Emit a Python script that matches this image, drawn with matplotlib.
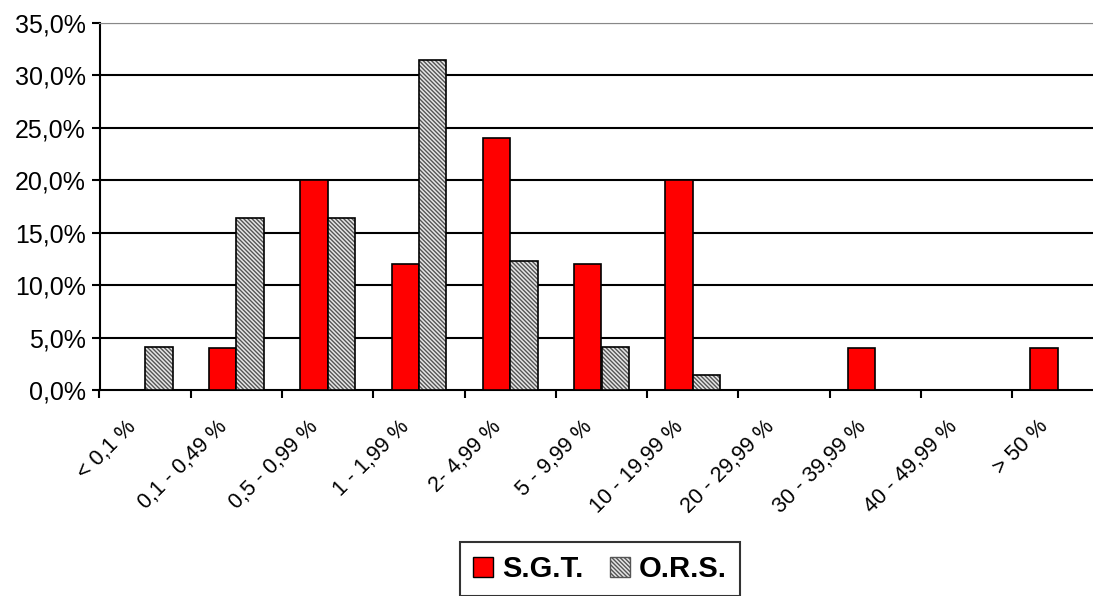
import matplotlib

matplotlib.use("Agg")
import matplotlib.pyplot as plt  # noqa: E402
import numpy as np  # noqa: E402
from matplotlib.patches import Patch  # noqa: E402

plt.rcParams["font.family"] = ["Liberation Sans", "DejaVu Sans"]
plt.rcParams["hatch.linewidth"] = 1.0

categories = [
    "< 0,1 %", "0,1 - 0,49 %", "0,5 - 0,99 %", "1 - 1,99 %", "2- 4,99 %",
    "5 - 9,99 %", "10 - 19,99 %", "20 - 29,99 %", "30 - 39,99 %",
    "40 - 49,99 %", "> 50 %",
]
sgt = [0, 4.0, 20.0, 12.0, 24.0, 12.0, 20.0, 0, 4.0, 0, 4.0]
ors = [4.1, 16.4, 16.4, 31.5, 12.3, 4.1, 1.4, 0, 0, 0, 0]
yticks = [0, 5, 10, 15, 20, 25, 30, 35]

HATCH = "\\" * 8

fig = plt.figure(figsize=(10.93, 5.96), dpi=100)
# plot area runs a little past the right edge of the picture, as in the reference
ax = fig.add_axes([99.5 / 1093, 1 - 390 / 596, 1004 / 1093, 367 / 596])

x = np.arange(len(categories))
w = 0.3
ax.bar(x - w / 2, sgt, w, color="#ff0000", edgecolor="black", lw=1.2, zorder=3)
ax.bar(x + w / 2, ors, w, color="#e6e6e6", edgecolor="#555555", hatch=HATCH, lw=0, zorder=3)
ax.bar(x + w / 2, ors, w, color="none", edgecolor="black", lw=1.2, zorder=4)

ax.set_xlim(-0.5, len(categories) - 0.5)
ax.set_ylim(0, 35)
ax.set_yticks(yticks)
ax.set_yticklabels([f"{v},0%" for v in yticks], fontsize=18)
for v in yticks[1:]:
    ax.axhline(v, color="black", lw=1.5, zorder=1)

ax.set_xticks(np.arange(len(categories) + 1) - 0.5, minor=False)
ax.set_xticklabels([])
# rotated labels end a little left of the category centre
ax.set_xticks(x - 0.22, minor=True)
ax.set_xticklabels(categories, minor=True, rotation=45, ha="right", va="top",
                   rotation_mode="anchor", fontsize=15.5)
ax.tick_params(axis="x", which="minor", length=0, pad=19)
ax.tick_params(axis="x", which="major", length=6, width=1.5, direction="out")
ax.tick_params(axis="y", length=6, width=1.5, direction="out", pad=4)

for s in ["left", "bottom"]:
    ax.spines[s].set_linewidth(1.5)
ax.spines["top"].set_color("#888888")
ax.spines["right"].set_visible(False)

handles = [
    Patch(facecolor="#ff0000", edgecolor="black", label="S.G.T."),
    Patch(facecolor="#e6e6e6", edgecolor="#555555", hatch=HATCH, label="O.R.S."),
]
leg = fig.legend(handles=handles, loc="center", bbox_to_anchor=(600 / 1093, 1 - 569 / 596),
                 ncol=2, frameon=True, fancybox=False, prop={"weight": "bold", "size": 21},
                 handlelength=0.7, handleheight=0.7, handletextpad=0.3, columnspacing=0.9,
                 borderpad=0.45, borderaxespad=0)
leg.get_frame().set_edgecolor("black")
leg.get_frame().set_linewidth(1.5)

fig.savefig("out.png", dpi=100)
